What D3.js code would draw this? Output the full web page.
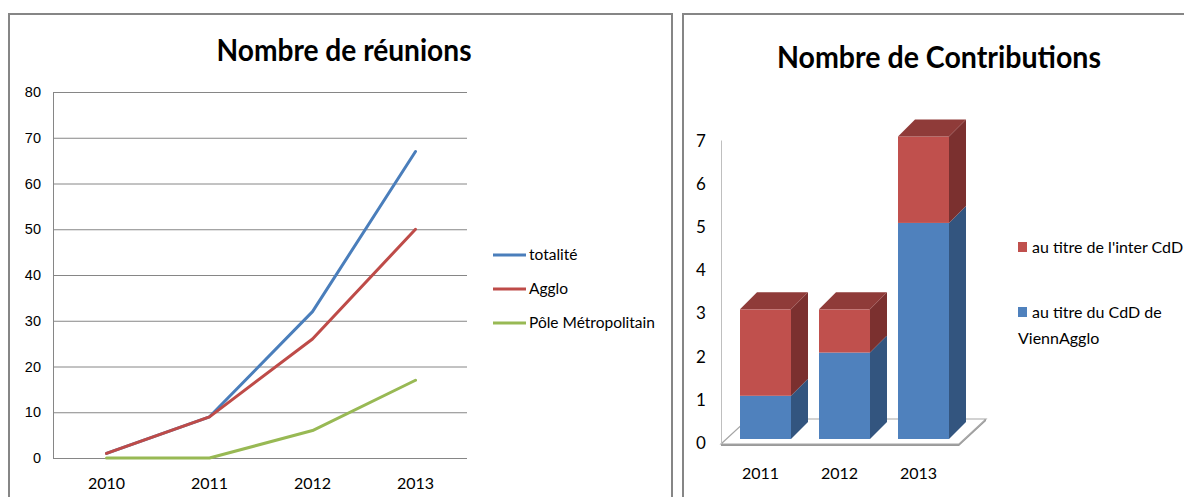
<!DOCTYPE html>
<html>
<head>
<meta charset="utf-8">
<script src="https://cdn.jsdelivr.net/npm/d3@7"></script>
<style>
  body { margin: 0; background: #fff; }
  svg { display: block; }
  text { font-family: Lato, "Open Sans", sans-serif; fill: #000; }
</style>
</head>
<body>
<div id="chart"></div>
<script>
// réunions (courbes cumulées)
const lineYears = ["2010", "2011", "2012", "2013"];
const lineSeries = ["totalité", "Agglo", "Pôle Métropolitain"];
const totalite = [1, 9, 32, 67];
const agglo = [1, 9, 26, 50];
const pole = [0, 0, 6, 17];
const lineTicks = [0, 10, 20, 30, 40, 50, 60, 70, 80];

// contributions (barres empilées)
const barYears = ["2011", "2012", "2013"];
const barSeries = ["au titre du CdD de ViennAgglo", "au titre de l'inter CdD"];
const cddVienn = [1, 2, 5];
const interCdd = [2, 1, 2];
const barTicks = [0, 1, 2, 3, 4, 5, 6, 7];

const width = 1184, height = 497;
const lineColors = ["#4A7EBB", "#BE4B48", "#98B954"];

const svg = d3.select("#chart").append("svg")
  .attr("width", width).attr("height", height);

// cadres
svg.append("rect").attr("x", 9).attr("y", 14).attr("width", 663).attr("height", 520)
  .attr("fill", "none").attr("stroke", "#868686").attr("stroke-width", 2);
svg.append("rect").attr("x", 683).attr("y", 14).attr("width", 540).attr("height", 520)
  .attr("fill", "none").attr("stroke", "#868686").attr("stroke-width", 2);

// ---------- graphique de gauche ----------
const left = svg.append("g");

left.append("text")
  .attr("x", 344).attr("y", 61)
  .attr("text-anchor", "middle")
  .attr("font-size", 31).attr("font-weight", "bold")
  .attr("textLength", 255).attr("lengthAdjust", "spacingAndGlyphs")
  .text("Nombre de réunions");

const x1 = d3.scaleBand().domain(lineYears).range([55, 467]);
const y1 = d3.scaleLinear().domain([0, 80]).range([458, 92]);

left.append("g")
  .selectAll("line")
  .data(lineTicks)
  .join("line")
  .attr("x1", 53).attr("x2", 467)
  .attr("y1", d => y1(d) + 0.5).attr("y2", d => y1(d) + 0.5)
  .attr("stroke", "#868686");

left.append("line")
  .attr("x1", 53.5).attr("x2", 53.5)
  .attr("y1", y1(80)).attr("y2", y1(0))
  .attr("stroke", "#868686");

left.append("g")
  .selectAll("text")
  .data(lineTicks)
  .join("text")
  .attr("x", 41).attr("y", d => y1(d) + 5)
  .attr("text-anchor", "end")
  .style("font-family", "'Liberation Sans', Arial, sans-serif")
  .attr("font-size", 14.5)
  .text(d => d);

left.append("g")
  .selectAll("text")
  .data(lineYears)
  .join("text")
  .attr("x", d => x1(d) + x1.bandwidth() / 2)
  .attr("y", 489)
  .attr("text-anchor", "middle")
  .attr("font-size", 16)
  .text(d => d);

const lineData = [totalite, agglo, pole];
const line = d3.line()
  .x((d, i) => x1(lineYears[i]) + x1.bandwidth() / 2)
  .y(d => y1(d));

left.append("g")
  .selectAll("path")
  .data(lineData)
  .join("path")
  .attr("d", line)
  .attr("fill", "none")
  .attr("stroke", (d, i) => lineColors[i])
  .attr("stroke-width", 3)
  .attr("stroke-linecap", "round")
  .attr("stroke-linejoin", "round");

const leg1 = left.append("g")
  .selectAll("g")
  .data(lineSeries)
  .join("g")
  .attr("transform", (d, i) => `translate(493,${255 + i * 34})`);

leg1.append("line")
  .attr("x1", 0).attr("x2", 33)
  .attr("stroke", (d, i) => lineColors[i])
  .attr("stroke-width", 3);

leg1.append("text")
  .attr("x", 36).attr("y", 5)
  .attr("font-size", 15.5)
  .text(d => d);

// ---------- graphique de droite ----------
const right = svg.append("g");

right.append("text")
  .attr("x", 939).attr("y", 68)
  .attr("text-anchor", "middle")
  .attr("font-size", 31).attr("font-weight", "bold")
  .attr("textLength", 324).attr("lengthAdjust", "spacingAndGlyphs")
  .text("Nombre de Contributions");

const x2 = d3.scaleBand().domain(barYears).range([740, 949])
  .paddingInner(28 / 79).paddingOuter(0);
const y2 = d3.scaleLinear().domain([0, 7]).range([439, 136.5]);
const depth = 17;          // profondeur des barres
const floorDx = 27, floorDy = 25;

const floorFront = y2(0) + 5;
const floorL = x2.range()[0] - 19;
const floorR = x2.range()[1] + 10;

// sol en 3D
right.append("polygon")
  .attr("points", [
    [floorL, floorFront + 2], [floorR, floorFront + 2],
    [floorR + floorDx, floorFront - floorDy + 2], [floorR + floorDx, floorFront - floorDy],
    [floorR, floorFront], [floorL, floorFront]
  ].join(" "))
  .attr("fill", "#9a9a9a");
right.append("polygon")
  .attr("points", [
    [floorL, floorFront], [floorR, floorFront],
    [floorR + floorDx, floorFront - floorDy], [floorL + floorDx, floorFront - floorDy]
  ].join(" "))
  .attr("fill", "#fff").attr("stroke", "#a6a6a6").attr("stroke-width", 1.2);

// axe vertical
right.append("line")
  .attr("x1", floorL + 0.5).attr("x2", floorL + 0.5)
  .attr("y1", y2(7) + 4).attr("y2", floorFront)
  .attr("stroke", "#bfbfbf");

right.append("g")
  .selectAll("text")
  .data(barTicks)
  .join("text")
  .attr("x", 701).attr("y", d => y2(d) + 10)
  .attr("text-anchor", "middle")
  .attr("font-size", 17)
  .text(d => d);

right.append("g")
  .selectAll("text")
  .data(barYears)
  .join("text")
  .attr("x", d => x2(d) + x2.bandwidth() / 2 - 5)
  .attr("y", 479)
  .attr("text-anchor", "middle")
  .attr("font-size", 16)
  .text(d => d);

const stack = barYears.map((yr, i) => [
  { year: yr, y0: 0, y1: cddVienn[i], front: "#4F81BD", side: "#33557F", top: "#3F6797" },
  { year: yr, y0: cddVienn[i], y1: cddVienn[i] + interCdd[i], front: "#C0504D", side: "#7B302F", top: "#8F3B39" }
]);

const bars = right.append("g")
  .selectAll("g")
  .data(stack)
  .join("g");

bars.each(function (segs) {
  const g = d3.select(this);
  segs.forEach((s, k) => {
    const xa = x2(s.year), xb = xa + x2.bandwidth();
    const ya = y2(s.y0), yb = y2(s.y1);
    g.append("rect")
      .attr("x", xa).attr("y", yb)
      .attr("width", x2.bandwidth()).attr("height", ya - yb)
      .attr("fill", s.front);
    g.append("polygon")
      .attr("points", [[xb, ya], [xb + depth, ya - depth], [xb + depth, yb - depth], [xb, yb]].join(" "))
      .attr("fill", s.side);
    if (k === segs.length - 1) {
      g.append("polygon")
        .attr("points", [[xa, yb], [xa + depth, yb - depth], [xb + depth, yb - depth], [xb, yb]].join(" "))
        .attr("fill", s.top);
    }
  });
});

// légende
const leg2Data = [
  { label: ["au titre de l'inter CdD"], color: "#C0504D", y: 242 },
  { label: ["au titre du CdD de", "ViennAgglo"], color: "#4F81BD", y: 307 }
];
const leg2 = right.append("g")
  .selectAll("g")
  .data(leg2Data)
  .join("g")
  .attr("transform", d => `translate(1018,${d.y})`);

leg2.append("rect")
  .attr("width", 9).attr("height", 10)
  .attr("fill", d => d.color);

leg2.append("text")
  .attr("x", 14).attr("y", 11)
  .attr("font-size", 16)
  .selectAll("tspan")
  .data(d => d.label)
  .join("tspan")
  .attr("x", (d, i) => i === 0 ? 14 : 0)
  .attr("dy", (d, i) => i === 0 ? 0 : 26)
  .text(d => d);
</script>
</body>
</html>
